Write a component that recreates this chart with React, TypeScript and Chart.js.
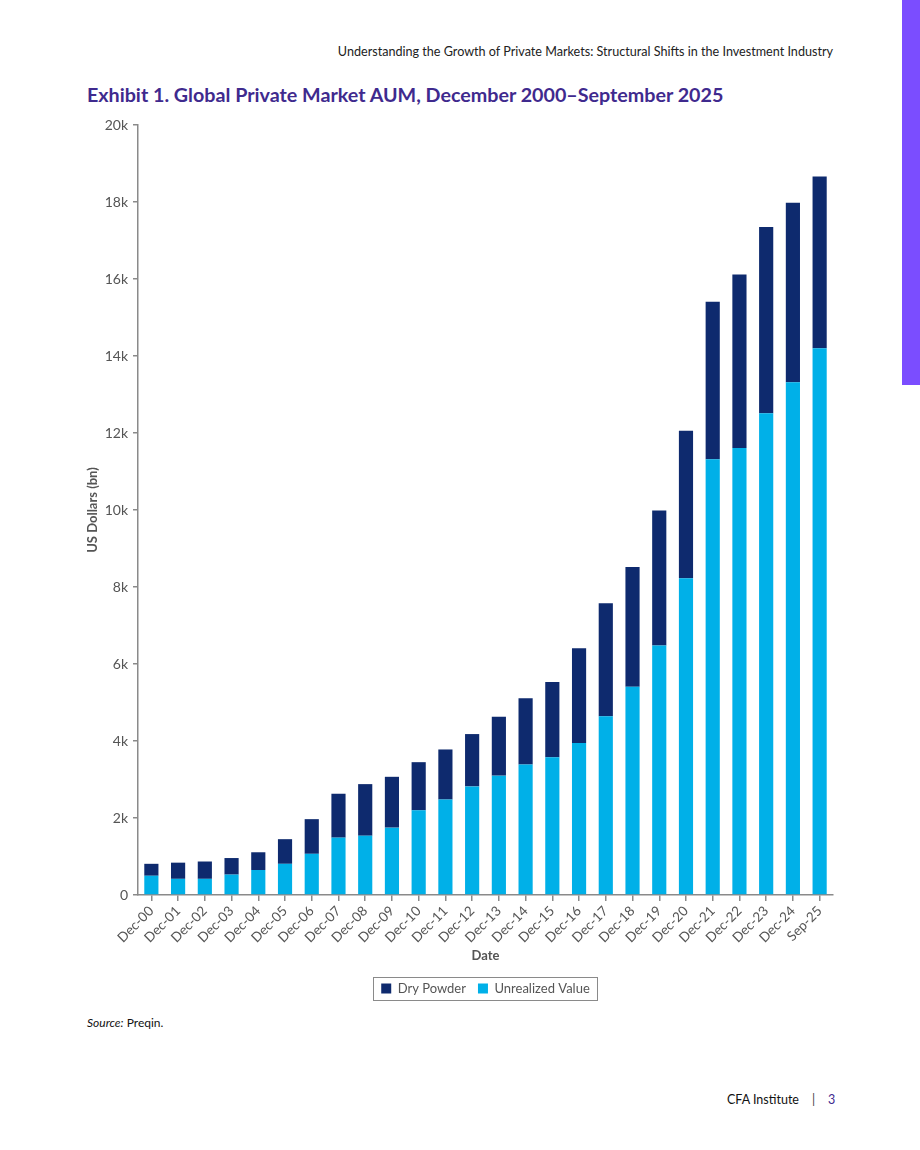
import React, { useEffect, useRef } from "react";
import { Chart, registerables } from "chart.js";

Chart.register(...registerables);

// Period labels (year-end snapshots, last one is Sep 2025)
const dates = [
  "Dec-00", "Dec-01", "Dec-02", "Dec-03", "Dec-04", "Dec-05", "Dec-06",
  "Dec-07", "Dec-08", "Dec-09", "Dec-10", "Dec-11", "Dec-12", "Dec-13",
  "Dec-14", "Dec-15", "Dec-16", "Dec-17", "Dec-18", "Dec-19", "Dec-20",
  "Dec-21", "Dec-22", "Dec-23", "Dec-24", "Sep-25",
];

// Unrealized value, US$ bn
const unrealizedValue = [
  500, 420, 420, 530, 650, 810, 1070, 1490, 1540, 1750, 2200, 2480, 2820,
  3100, 3390, 3580, 3950, 4640, 5410, 6480, 8230, 11320, 11610, 12510,
  13320, 14200,
];

// Dry powder, US$ bn (stacked on top of unrealized value)
const dryPowder = [
  310, 420, 450, 430, 460, 640, 900, 1140, 1340, 1320, 1250, 1300, 1360,
  1530, 1720, 1950, 2460, 2940, 3110, 3510, 3830, 4090, 4510, 4840, 4660,
  4460,
];

const yTicks = [0, 2000, 4000, 6000, 8000, 10000, 12000, 14000, 16000, 18000, 20000];

const NAVY = "#0e2a6e";
const CYAN = "#00b0e8";
const AXIS = "#8a8a8a";
const TEXT = "#555555";
const FONT = "Lato, 'Open Sans', sans-serif";

// Draws a thin frame around the legend items
const legendFrame = {
  id: "legendFrame",
  afterDraw(chart: any) {
    const boxes = chart.legend?.legendHitBoxes;
    if (!boxes || !boxes.length) return;
    let l = Infinity, r = -Infinity, t = Infinity, b = -Infinity;
    for (const hb of boxes) {
      l = Math.min(l, hb.left);
      r = Math.max(r, hb.left + hb.width);
      t = Math.min(t, hb.top);
      b = Math.max(b, hb.top + hb.height);
    }
    const ctx = chart.ctx;
    ctx.save();
    ctx.strokeStyle = AXIS;
    ctx.lineWidth = 1;
    ctx.strokeRect(Math.round(l - 8) + 0.5, Math.round(t - 5) + 0.5, Math.round(r - l + 15), Math.round(b - t + 10));
    ctx.restore();
  },
};

function AumChart() {
  const ref = useRef<HTMLCanvasElement | null>(null);

  useEffect(() => {
    if (!ref.current) return;
    const chart = new Chart(ref.current, {
      type: "bar",
      data: {
        labels: dates,
        datasets: [
          {
            label: "Unrealized Value",
            data: unrealizedValue,
            backgroundColor: CYAN,
            barPercentage: 0.53,
            categoryPercentage: 1,
          },
          {
            label: "Dry Powder",
            data: dryPowder,
            backgroundColor: NAVY,
            barPercentage: 0.53,
            categoryPercentage: 1,
          },
        ],
      },
      options: {
        animation: false,
        responsive: false,
        maintainAspectRatio: false,
        layout: { padding: { left: 5, right: 27, top: 15, bottom: 5 } },
        plugins: {
          tooltip: { enabled: false },
          legend: {
            position: "bottom",
            fullSize: false,
            reverse: true,
            labels: {
              boxWidth: 10,
              boxHeight: 10,
              padding: 12,
              color: TEXT,
              font: { family: FONT, size: 13 },
            },
          },
        },
        scales: {
          x: {
            stacked: true,
            grid: {
              drawOnChartArea: false,
              drawTicks: true,
              tickLength: 6,
              color: AXIS,
              lineWidth: 1.5,
              offset: false,
            },
            border: { color: AXIS, width: 1.5 },
            ticks: {
              color: TEXT,
              minRotation: 45,
              maxRotation: 45,
              autoSkip: false,
              padding: 2,
              font: { family: FONT, size: 13.5 },
            },
            title: {
              display: true,
              text: "Date",
              color: TEXT,
              font: { family: FONT, size: 13, weight: "bold" },
              padding: { top: 4, bottom: 6 },
            },
            afterFit(scale: any) {
              scale.height = 75;
            },
          },
          y: {
            stacked: true,
            min: 0,
            max: 20000,
            afterBuildTicks(scale: any) {
              scale.ticks = yTicks.map((v) => ({ value: v }));
            },
            grid: {
              drawOnChartArea: false,
              drawTicks: true,
              tickLength: 5,
              color: AXIS,
              lineWidth: 1.5,
            },
            border: { color: AXIS, width: 1.5 },
            ticks: {
              color: TEXT,
              padding: 5,
              font: { family: FONT, size: 14 },
              callback: (v: any) => (Number(v) === 0 ? "0" : `${Number(v) / 1000}k`),
            },
            title: {
              display: true,
              text: "US Dollars (bn)",
              color: TEXT,
              font: { family: FONT, size: 13, weight: "bold" },
              padding: { top: 0, bottom: 4 },
            },
            afterFit(scale: any) {
              scale.width = 53;
            },
          },
        },
      },
      plugins: [legendFrame],
    });
    return () => chart.destroy();
  }, []);

  return (
    <canvas
      ref={ref}
      width={780}
      height={900}
      style={{ position: "absolute", left: 80, top: 110, width: 780, height: 900 }}
    />
  );
}

export default function App() {
  return (
    <div
      style={{
        position: "absolute",
        left: 0,
        top: 0,
        width: 920,
        height: 1150,
        background: "#ffffff",
        overflow: "hidden",
        fontFamily: FONT,
      }}
    >
      <div style={{ position: "absolute", left: 902, top: 0, width: 18, height: 385, background: "#7b4dff" }} />
      <div
        style={{
          position: "absolute",
          right: 87,
          top: 44,
          fontSize: 12.6,
          color: "#222",
          whiteSpace: "nowrap",
        }}
      >
        Understanding the Growth of Private Markets: Structural Shifts in the Investment Industry
      </div>
      <div
        style={{
          position: "absolute",
          left: 87,
          top: 83,
          fontSize: 19.7,
          fontWeight: 700,
          color: "#3f2a8e",
          whiteSpace: "nowrap",
        }}
      >
        Exhibit 1. Global Private Market AUM, December 2000–September 2025
      </div>
      <AumChart />
      <div style={{ position: "absolute", left: 87, top: 1015, fontSize: 12, fontWeight: 400, color: "#111" }}>
        <i>Source:</i> Preqin.
      </div>
      <div style={{ position: "absolute", left: 727, top: 1092, fontSize: 12.5, color: "#111", whiteSpace: "nowrap" }}>
        CFA Institute
        <span style={{ display: "inline-block", margin: "0 0 0 13px", color: "#444" }}>|</span>
        <span style={{ display: "inline-block", marginLeft: 13, color: "#3f2a8e" }}>3</span>
      </div>
    </div>
  );
}
